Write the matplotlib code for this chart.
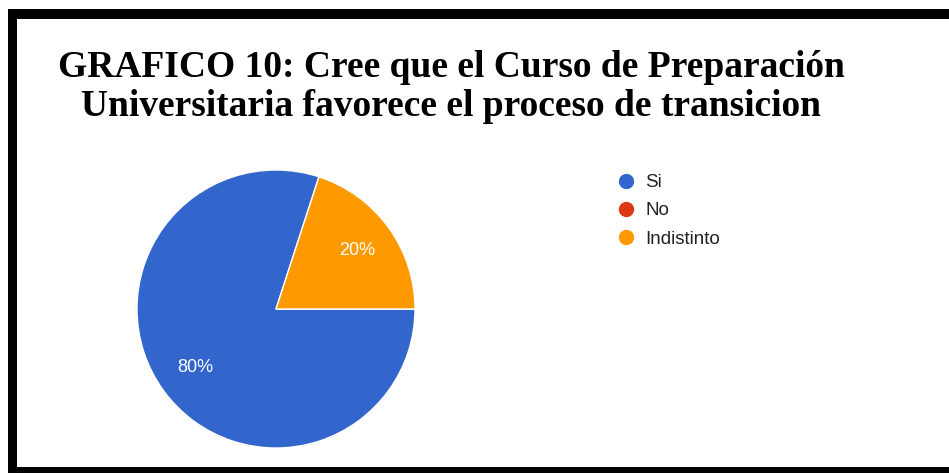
import matplotlib
matplotlib.use("Agg")
import matplotlib.pyplot as plt
from matplotlib.lines import Line2D
from matplotlib.patches import Rectangle

categories = ["Si", "No", "Indistinto"]
values = [80, 0, 20]
colors = ["#3366CC", "#DC3912", "#FF9900"]
title = "GRAFICO 10: Cree que el Curso de Preparación\nUniversitaria favorece el proceso de transicion"

W, H = 949, 473
fig = plt.figure(figsize=(W / 100, H / 100), dpi=100)
fig.patch.set_facecolor("white")

# frame
def px_rect(x0, y0, x1, y1):
    fig.patches.append(Rectangle((x0 / W, 1 - y1 / H), (x1 - x0) / W, (y1 - y0) / H,
                                 transform=fig.transFigure, facecolor="black",
                                 edgecolor="none", zorder=10))
px_rect(8, 9, W, 19)
px_rect(8, 9, 17, H)
px_rect(8, 467, W, H)

fig.text(451 / W, 1 - 87 / H, title, ha="center", va="center",
         fontfamily="Liberation Serif", fontweight="bold", fontsize=27,
         linespacing=1.12, color="black")

ax = fig.add_axes([137 / W, 1 - 448 / H, 278 / W, 278 / H])
wedges, texts, autotexts = ax.pie(
    values, colors=colors, startangle=72, counterclock=True,
    autopct=lambda p: f"{p:.0f}%" if p > 0 else "", pctdistance=0.72,
    wedgeprops=dict(edgecolor="white", linewidth=1),
    textprops=dict(color="white", fontsize=13, fontfamily="Liberation Sans"))
ax.set_xlim(-1, 1)
ax.set_ylim(-1, 1)
ax.set_aspect("equal")

handles = [Line2D([], [], marker="o", linestyle="none", markersize=10,
                  markerfacecolor=c, markeredgecolor=c) for c in colors]
leg = fig.legend(handles, categories, loc="upper left",
                 bbox_to_anchor=(617 / W, 1 - 174 / H), frameon=False,
                 prop=dict(family="Liberation Sans", size=13.5),
                 handlelength=1.0, handletextpad=0.5, labelspacing=0.59,
                 borderpad=0, borderaxespad=0)
for t in leg.get_texts():
    t.set_color("#222222")

fig.savefig("out.png", dpi=100)
